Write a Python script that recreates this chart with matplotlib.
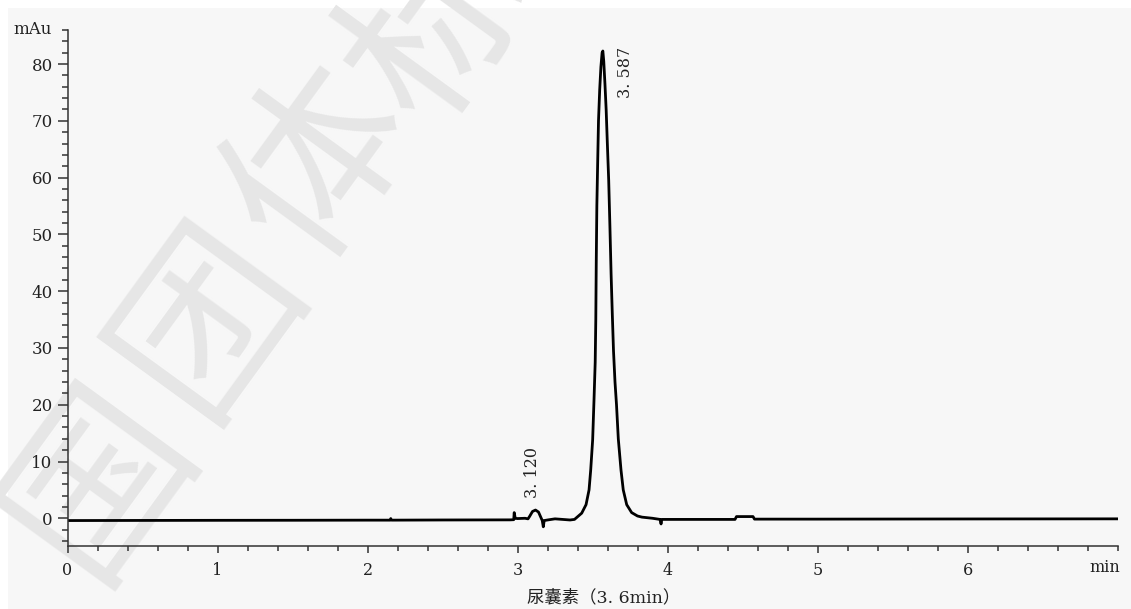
"""
尿囊素 HPLC 色谱图（3.6 min）
输出：out.png
"""

import matplotlib
matplotlib.use("Agg")
import matplotlib.pyplot as plt
from matplotlib.patches import Rectangle
from matplotlib.ticker import MultipleLocator

OUTPUT_PNG = "out.png"

# 色谱曲线（从图上读取的点：时间 min，信号 mAu）
TIME = [
    0.00, 0.50, 1.00, 1.50, 2.00, 2.15, 2.155, 2.16, 2.50, 2.95,
    2.975, 2.978, 2.985, 3.00, 3.05, 3.07, 3.08, 3.10, 3.12, 3.14,
    3.155, 3.165, 3.172, 3.178, 3.20, 3.25, 3.30, 3.35, 3.38,
    3.428, 3.457, 3.477, 3.488, 3.501, 3.510, 3.518, 3.522, 3.525,
    3.529, 3.534, 3.540, 3.548, 3.556, 3.564, 3.569, 3.575, 3.583,
    3.591, 3.599, 3.608, 3.616, 3.624, 3.632, 3.640, 3.650, 3.660,
    3.672, 3.690, 3.705, 3.728, 3.761, 3.800, 3.830, 3.900, 3.950,
    3.957, 3.962, 4.20, 4.45, 4.46, 4.57, 4.58, 5.00, 6.00, 7.00,
]
SIGNAL = [
    -0.40, -0.38, -0.36, -0.35, -0.33, -0.33, -0.05, -0.33, -0.30, -0.28,
    -0.25, 1.00, 0.00, -0.05, 0.00, -0.10, 0.30, 1.20, 1.45, 1.10,
    0.20, -0.40, -1.50, -0.40, -0.30, -0.10, -0.20, -0.30, -0.20,
    0.90, 2.40, 5.00, 8.50, 13.8, 20.8, 27.5, 35.0, 45.0,
    55.0, 62.0, 70.0, 75.5, 79.5, 82.0, 82.3, 80.5, 76.5,
    72.0, 66.0, 59.5, 51.5, 43.0, 36.0, 29.5, 24.0, 20.0,
    14.0, 8.5, 5.0, 2.4, 1.0, 0.40, 0.20, 0.00, -0.20,
    -1.00, -0.20, -0.20, -0.20, 0.30, 0.30, -0.15, -0.15, -0.12, -0.10,
]

# 峰标注（保留时间标签，标签位置）
PEAK_LABELS = ["3. 587", "3. 120"]
PEAK_LABEL_X = [3.722, 3.103]
PEAK_LABEL_Y = [83.0, 3.6]
PEAK_LABEL_VA = ["top", "bottom"]

X_TICKS = [0, 1, 2, 3, 4, 5, 6]
Y_TICKS = [0, 10, 20, 30, 40, 50, 60, 70, 80]

# 背景水印文字（像素中心位置）
WATERMARK = ["国", "团", "体", "标"]
WATERMARK_PX = [(100, 480), (210, 318), (322, 165), (440, 28)]

SERIF = ["DejaVu Serif", "Noto Sans CJK SC"]


def main():
    W, H = 1131, 609
    fig = plt.figure(figsize=(W / 100, H / 100), dpi=100, facecolor="white")

    # 扫描图的浅灰底
    fig.patches.append(Rectangle((8 / W, 0), 1 - 8 / W, 1 - 8 / H,
                                 transform=fig.transFigure,
                                 facecolor="#f7f7f7", edgecolor="none",
                                 zorder=-10))

    # 水印
    for ch, (px, py) in zip(WATERMARK, WATERMARK_PX):
        fig.text(px / W, 1 - py / H, ch, fontsize=130, color="#e6e6e6",
                 family=["Noto Sans CJK SC"],
                 rotation=54, ha="center", va="center", zorder=-5,
                 rotation_mode="anchor")

    x0, x1 = 67.5, 1117.5
    ytop, ybot = 30.0, 545.7
    ax = fig.add_axes([x0 / W, 1 - ybot / H, (x1 - x0) / W, (ybot - ytop) / H])
    ax.patch.set_alpha(0)

    ax.plot(TIME, SIGNAL, color="black", linewidth=2.0, solid_joinstyle="round")

    ax.set_xlim(0, 7.0)
    ax.set_ylim(-4.83, 86.0)

    for s in ["top", "right"]:
        ax.spines[s].set_visible(False)
    for s in ["left", "bottom"]:
        ax.spines[s].set_linewidth(1.1)
        ax.spines[s].set_color("#333333")

    ax.set_xticks(X_TICKS)
    ax.set_yticks(Y_TICKS)
    ax.xaxis.set_minor_locator(MultipleLocator(0.2))
    ax.yaxis.set_minor_locator(MultipleLocator(2))

    ax.tick_params(axis="y", which="major", length=7.2, width=1.1,
                   color="#333333", pad=3.5)
    ax.tick_params(axis="y", which="minor", length=4.1, width=1.1,
                   color="#333333")
    ax.tick_params(axis="x", which="major", length=5, width=1.1,
                   color="#333333", pad=7)
    ax.tick_params(axis="x", which="minor", length=3.6, width=1.1,
                   color="#333333")

    for lab in ax.get_yticklabels():
        lab.set_family(SERIF)
        lab.set_fontsize(12)
        lab.set_color("#222222")
    for lab in ax.get_xticklabels():
        lab.set_family(SERIF)
        lab.set_fontsize(11.5)
        lab.set_color("#222222")

    # 峰标签
    for txt, lx, ly, va in zip(PEAK_LABELS, PEAK_LABEL_X, PEAK_LABEL_Y, PEAK_LABEL_VA):
        ax.text(lx, ly, txt, rotation=90, ha="center", va=va,
                fontsize=11.5, family=SERIF, color="#222222")

    # 轴单位
    fig.text(52 / W, 1 - 34 / H, "mAu", ha="right", va="baseline",
             fontsize=12, family=SERIF, color="#222222")
    fig.text(1120 / W, 1 - 572 / H, "min", ha="right", va="baseline",
             fontsize=11.5, family=SERIF, color="#222222")

    fig.text(604 / W, 1 - 598 / H, "尿囊素（3. 6min）", ha="center",
             va="center", fontsize=12.5, family=SERIF, color="#222222")

    fig.savefig(OUTPUT_PNG, dpi=100, facecolor=fig.get_facecolor())
    plt.close(fig)


if __name__ == "__main__":
    main()
